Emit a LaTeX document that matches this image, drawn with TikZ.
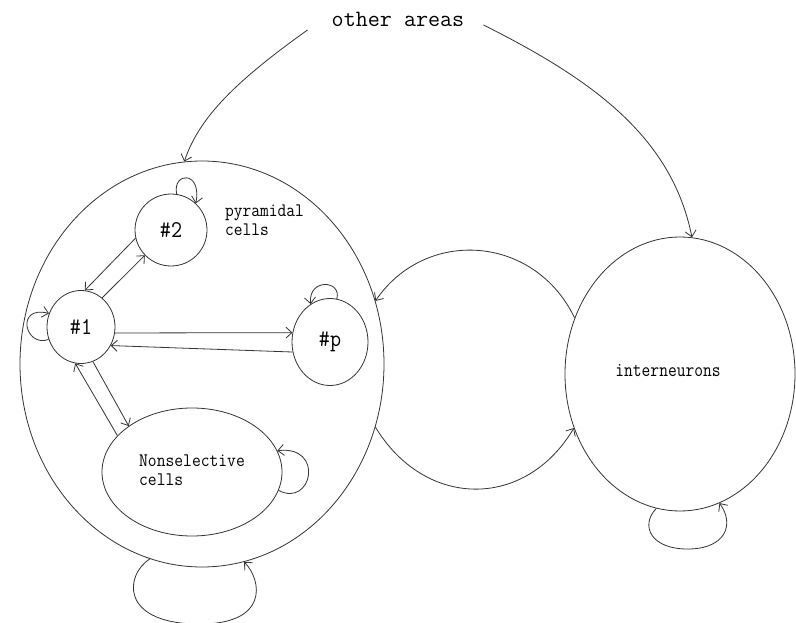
\documentclass[tikz,border=0pt]{standalone}
\usepackage{fontspec}
\usepackage{graphicx}
\usetikzlibrary{shapes.geometric,arrows.meta}
\newcommand{\monof}{\ttfamily}
\newcommand{\tallt}[2]{\scalebox{1}[#1]{#2}}
\begin{document}
\begin{tikzpicture}[x=1pt,y=-1pt,
  ln/.style={draw=black!80, line width=0.8pt},
  arr/.style={ln, -{Straight Barb[length=6pt,width=11pt]}},
  cell/.style={ln, ellipse, inner sep=0pt, font=\monof\fontsize{21.5}{21.5}\selectfont},
  lbl/.style={inner sep=0pt, font=\monof}
]
\useasboundingbox (0,0) rectangle (796,623);
\fill[white] (0,0) rectangle (796,623);

% text at top
\node[lbl, font=\monof\fontsize{23.4}{23.4}\selectfont] (other) at (398,19) {other areas};

% big populations
\node[ln, ellipse, inner sep=0pt, minimum width=364pt, minimum height=406pt] (pfc) at (202,364) {};
\node[ln, ellipse, inner sep=0pt, minimum width=230pt, minimum height=274pt,
      label={[lbl, font=\monof\fontsize{17}{17}\selectfont, xshift=-12pt, yshift=3pt]center:\tallt{1.18}{interneurons}}] (inh) at (680,374) {};

% cells
\node[cell, minimum width=72pt, minimum height=72pt] (n2) at (171,230) {\tallt{1.12}{\#2}};
\node[cell, minimum width=68pt, minimum height=73pt] (n1) at (81,327) {\tallt{1.12}{\#1}};
\node[cell, minimum width=76pt, minimum height=87pt] (np) at (330,342) {\tallt{1.12}{\#p}};
\node[cell, minimum width=180pt, minimum height=128pt, font=\monof\fontsize{17.1}{17}\selectfont] (ns) at (192,472)
  {\tallt{1.12}{\begin{tabular}{@{}l@{}}Nonselective\\cells\end{tabular}}};
\node[lbl, anchor=west, font=\monof\fontsize{17}{17}\selectfont] (pyr) at (225,222)
  {\tallt{1.12}{\begin{tabular}{@{}l@{}}pyramidal\\cells\end{tabular}}};

% inputs from other areas
\draw[arr] ([xshift=-24pt,yshift=-11pt]other.west) .. controls +(-70,50) and +(15,-45) .. (pfc.95);
\draw[arr] ([xshift=19pt,yshift=-6pt]other.east) .. controls +(110,55) and +(-20,-100) .. (inh.85);

% loop between pyramidal population and interneurons
\draw[arr] (inh.152) .. controls (535,235) and (426,227) .. (pfc.20);
\draw[arr] (pfc.-20) .. controls (425,509) and (525,510) .. (inh.-153);

% self loops
\draw[arr] (pfc.-105) .. controls (125,575) and (120,622) .. (195,624) .. controls (270,626) and (262,580) .. (pfc.-78);
\draw[arr] (inh.-100) .. controls (640,525) and (650,550) .. (690,549) .. controls (725,548) and (735,525) .. (inh.-73);
\draw[arr] (ns.-12) .. controls (312,508) and (325,445) .. (ns.14);
\draw[arr] (n2.81) .. controls (172,172) and (202,170) .. (n2.47);
\draw[arr] (np.81) .. controls (342,280) and (308,278) .. (np.117);
\draw[arr] (n1.-159) .. controls (25,348) and (15,305) .. (n1.157);

% connections between cell groups
\draw[arr] (n2.-167) -- (n1.84);
\draw[arr] (n1.54) -- (n2.-136);
\draw[arr] (n1.-10) -- (np.166);
\draw[arr] (np.195) -- (n1.-32);
\draw[arr] (n1.-71) -- (ns.144);
\draw[arr] (ns.154) -- (n1.-99);
\end{tikzpicture}
\end{document}
